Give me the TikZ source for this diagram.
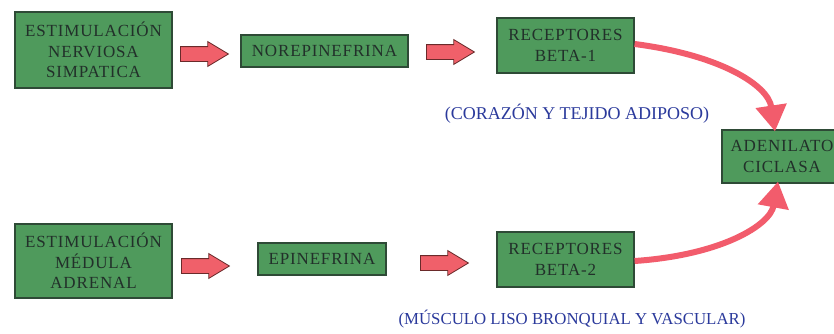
\documentclass[tikz,border=0pt]{standalone}
\usepackage{fontspec}
\setmainfont{Liberation Serif}
\newfontfamily\boxfont[LetterSpace=5]{Liberation Serif}
\usetikzlibrary{shapes.arrows,arrows.meta}
\definecolor{boxgreen}{HTML}{4F9A5C}
\definecolor{boxline}{HTML}{2E4A36}
\definecolor{boxtext}{HTML}{22302A}
\definecolor{arrowred}{HTML}{F0606A}
\definecolor{arrowline}{HTML}{6A2A2A}
\definecolor{curvered}{HTML}{F25C6C}
\definecolor{labelblue}{HTML}{2B3A9C}
\tikzset{
  gbox/.style={draw=boxline, line width=1.2pt, fill=boxgreen, text=boxtext,
    align=center, inner sep=0pt, font=\boxfont\fontsize{17}{20.5}\selectfont},
  barrow/.style={shape=single arrow, draw=arrowline, line width=0.8pt, fill=arrowred,
    inner sep=7pt, single arrow head extend=5pt, single arrow tip angle=62,
    minimum height=48pt, anchor=tail},
  carrow/.style={draw=curvered, line width=6pt, -{Triangle[length=26pt,width=30pt]}},
  lbl/.style={text=labelblue, font=\fontsize{18}{20}\selectfont, inner sep=0pt}
}
\begin{document}
\begin{tikzpicture}[x=1pt,y=-1pt]
\clip (0,0) rectangle (834,333);
\fill[white] (0,0) rectangle (834,333);
\node[gbox, minimum width=157pt, minimum height=76pt] (b1) at (93.5,50) {ESTIMULACIÓN\\NERVIOSA\\SIMPATICA};
\node[gbox, minimum width=167pt, minimum height=32pt] (b2) at (324.5,51) {NOREPINEFRINA};
\node[gbox, minimum width=137pt, minimum height=55pt] (b3) at (565.5,45.5) {RECEPTORES\\BETA-1};
\node[gbox, minimum width=120pt, minimum height=53pt] (b7) at (782,156.5) {ADENILATO\\CICLASA};
\node[gbox, minimum width=157pt, minimum height=74pt] (b4) at (93.5,261) {ESTIMULACIÓN\\MÉDULA\\ADRENAL};
\node[gbox, minimum width=128pt, minimum height=32pt] (b5) at (322,259) {EPINEFRINA};
\node[gbox, minimum width=137pt, minimum height=55pt] (b6) at (565.5,259.5) {RECEPTORES\\BETA-2};
\node[barrow] (a1) at (180,54) {};
\node[barrow] (a2) at (426,52) {};
\node[barrow] (a3) at (181,266) {};
\node[barrow] (a4) at (420,263) {};
\node[lbl] (l1) at (577,114) {(CORAZÓN Y TEJIDO ADIPOSO)};
\node[lbl, font=\fontsize{16.8}{20}\selectfont] (l2) at (572,319) {(MÚSCULO LISO BRONQUIAL Y VASCULAR)};
\coordinate (t1) at ([xshift=-7pt,yshift=-2pt]b7.north);
\coordinate (t2) at ([xshift=-4pt,yshift=2pt]b7.south);
\draw[carrow] ([yshift=1.5pt]b3.east) .. controls (720,55) and (768,85) .. (t1);
\draw[carrow] ([yshift=-1.5pt]b6.east) .. controls (722,255) and (770,225) .. (t2);
\end{tikzpicture}
\end{document}
